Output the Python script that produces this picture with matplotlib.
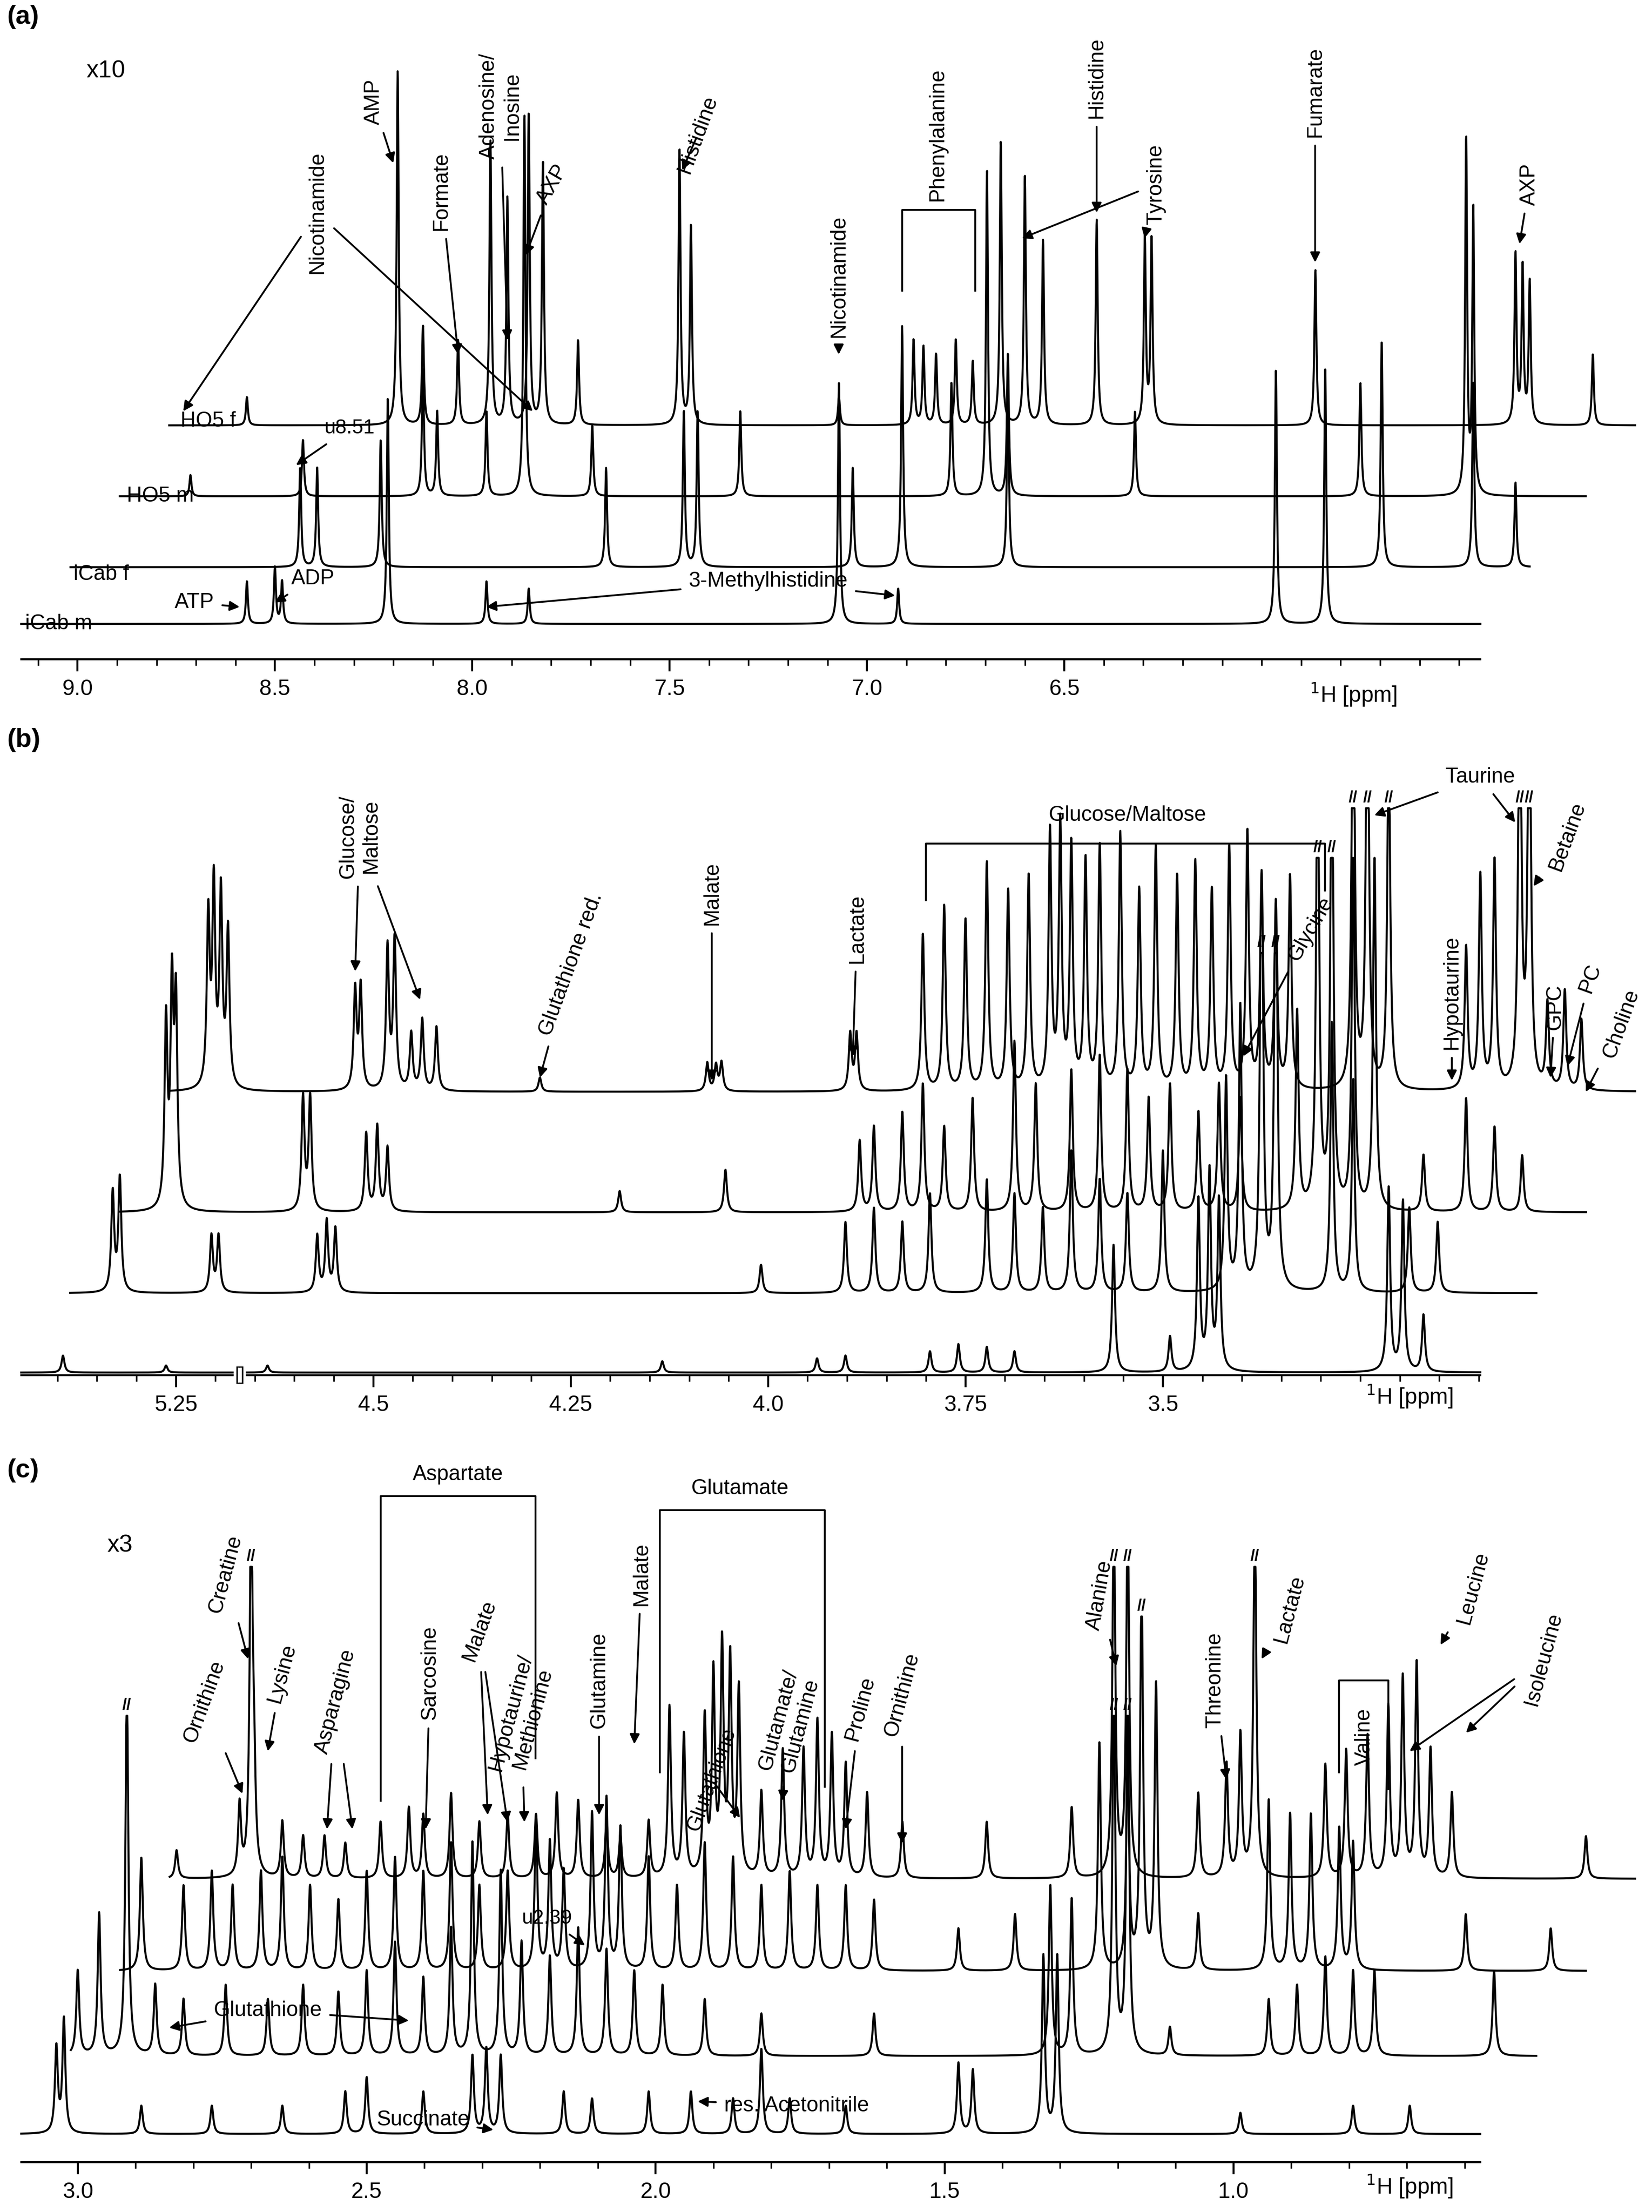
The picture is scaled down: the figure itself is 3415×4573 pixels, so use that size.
import numpy as np
import matplotlib
matplotlib.use('Agg')
import matplotlib.pyplot as plt
from matplotlib.ticker import FixedLocator

plt.rcParams['font.family'] = ['Liberation Sans', 'DejaVu Sans']

# ---------------- data: peak positions (ppm) and heights per trace ----------------
# panel (a), aromatic region (x10)
a_names = ['HO5 f', 'HO5 m', 'iCab f', 'iCab m']
a_ppm = [
    [8.571, 8.189, 8.125, 8.036, 7.954, 7.911, 7.857, 7.821, 7.732, 7.475, 7.446, 7.071, 6.882, 6.857,
     6.825, 6.775, 6.732, 6.661, 6.600, 6.554, 6.418, 6.296, 6.279, 5.864, 5.357, 5.339, 5.321, 5.161],
    [8.714, 8.429, 8.125, 8.089, 7.964, 7.868, 7.696, 7.321, 6.786, 6.696, 6.643, 6.321, 5.750, 5.482, 5.464],
    [8.436, 8.393, 8.232, 7.661, 7.464, 7.429, 7.036, 6.911, 6.643, 5.696, 5.464, 5.357],
    [8.571, 8.500, 8.482, 8.214, 7.964, 7.857, 7.071, 6.921, 5.964, 5.839],
]
a_int = [
    [20, 250, 70, 60, 200, 160, 220, 185, 60, 195, 140, 20, 60, 55, 50, 60, 45, 200, 175, 130, 145, 130,
     130, 110, 120, 110, 100, 50],
    [15, 40, 90, 60, 60, 270, 50, 60, 80, 230, 100, 60, 80, 250, 200],
    [70, 70, 90, 70, 110, 110, 70, 170, 130, 160, 130, 60],
    [30, 40, 30, 160, 30, 25, 170, 25, 180, 180],
]
a_range = [(8.768, 5.054), (8.893, 5.179), (9.018, 5.321), (9.143, 5.446)]

# panel (b), 5.4-2.9 ppm
b_ppm = [
    [5.209, 5.202, 5.193, 5.184, 4.523, 4.516, 4.482, 4.473, 4.452, 4.438, 4.420, 4.289, 4.077, 4.066,
     4.059, 3.896, 3.888, 3.804, 3.777, 3.750, 3.723, 3.696, 3.670, 3.643, 3.630, 3.616, 3.598, 3.580,
     3.554, 3.530, 3.509, 3.482, 3.459, 3.438, 3.416, 3.393, 3.375, 3.357, 3.339, 3.259, 3.241, 3.214,
     3.116, 3.098, 3.080, 3.048, 3.036, 3.013, 2.991, 2.970],
    [5.2625, 5.255, 5.250, 4.589, 4.580, 4.509, 4.495, 4.482, 4.188, 4.054, 3.884, 3.866, 3.830, 3.804,
     3.777, 3.741, 3.688, 3.661, 3.616, 3.580, 3.545, 3.518, 3.491, 3.455, 3.429, 3.402, 3.330, 3.304,
     3.286, 3.259, 3.232, 3.170, 3.116, 3.080, 3.045],
    [5.330, 5.321, 5.205, 5.196, 4.571, 4.559, 4.548, 4.009, 3.902, 3.866, 3.830, 3.795, 3.723, 3.688,
     3.652, 3.616, 3.580, 3.545, 3.500, 3.420, 3.402, 3.375, 3.357, 3.286, 3.259, 3.188, 3.152],
    [5.393, 5.2625, 4.634, 4.134, 3.938, 3.902, 3.795, 3.759, 3.723, 3.688, 3.5625, 3.491, 3.455, 3.441,
     3.429, 3.214, 3.196, 3.170],
]
b_int = [
    [120, 140, 135, 110, 70, 72, 100, 105, 40, 50, 45, 10, 20, 18, 20, 40, 40, 110, 130, 120, 160, 140,
     150, 180, 185, 170, 160, 170, 180, 140, 170, 150, 160, 140, 170, 180, 150, 130, 150, 330, 330, 250,
     100, 150, 160, 330, 330, 60, 70, 50],
    [130, 150, 140, 80, 80, 55, 60, 45, 15, 30, 50, 60, 70, 90, 60, 80, 120, 90, 100, 110, 100, 80, 90,
     70, 90, 80, 140, 350, 350, 250, 250, 40, 80, 60, 40],
    [70, 80, 40, 40, 40, 50, 45, 20, 50, 60, 50, 70, 80, 70, 60, 100, 80, 70, 100, 150, 200, 350, 350,
     190, 150, 60, 50],
    [12, 5, 5, 8, 10, 12, 15, 20, 18, 15, 90, 25, 120, 140, 120, 130, 120, 40],
]
b_range = [(5.259, 2.902), (5.321, 2.964), (5.384, 3.027), (5.446, 3.098)]

# panel (c), aliphatic region (x3)
c_ppm = [
    [2.829, 2.720, 2.700, 2.695, 2.646, 2.610, 2.573, 2.537, 2.476, 2.427, 2.402, 2.354, 2.305, 2.256,
     2.207, 2.171, 2.134, 2.085, 2.061, 2.012, 1.976, 1.951, 1.915, 1.900, 1.885, 1.871, 1.856, 1.817,
     1.780, 1.744, 1.720, 1.695, 1.671, 1.634, 1.573, 1.427, 1.280, 1.207, 1.183, 1.061, 1.012, 0.988,
     0.963, 0.841, 0.805, 0.768, 0.732, 0.707, 0.683, 0.659, 0.622, 0.390],
    [2.890, 2.817, 2.768, 2.732, 2.683, 2.646, 2.598, 2.549, 2.500, 2.451, 2.402, 2.354, 2.305, 2.256,
     2.207, 2.183, 2.159, 2.110, 2.085, 2.061, 2.012, 1.963, 1.915, 1.866, 1.817, 1.768, 1.720, 1.671,
     1.622, 1.476, 1.378, 1.232, 1.183, 1.159, 1.134, 1.061, 0.939, 0.902, 0.866, 0.817, 0.793, 0.598,
     0.451],
    [3.000, 2.963, 2.915, 2.866, 2.817, 2.744, 2.671, 2.610, 2.549, 2.500, 2.451, 2.402, 2.354, 2.317,
     2.268, 2.232, 2.183, 2.134, 2.085, 2.037, 1.988, 1.915, 1.817, 1.622, 1.317, 1.280, 1.207, 1.183,
     1.110, 0.939, 0.890, 0.841, 0.793, 0.756, 0.549],
    [3.037, 3.024, 2.890, 2.768, 2.646, 2.537, 2.500, 2.402, 2.317, 2.293, 2.268, 2.159, 2.110, 2.012,
     1.939, 1.866, 1.817, 1.768, 1.671, 1.476, 1.451, 1.329, 1.305, 0.988, 0.793, 0.695],
]
c_int = [
    [20, 50, 260, 60, 40, 30, 30, 25, 40, 50, 45, 60, 40, 45, 45, 60, 55, 40, 30, 40, 120, 100, 110, 140,
     160, 150, 130, 60, 90, 90, 110, 100, 80, 60, 40, 40, 50, 260, 260, 60, 80, 100, 260, 80, 90, 100,
     120, 140, 150, 90, 60, 30],
    [80, 60, 70, 60, 70, 80, 60, 50, 70, 80, 70, 90, 60, 70, 100, 90, 70, 110, 120, 100, 80, 60, 90, 80,
     60, 70, 60, 60, 50, 30, 40, 160, 150, 270, 200, 40, 120, 110, 110, 100, 90, 40, 30],
    [60, 100, 260, 50, 40, 50, 40, 50, 45, 60, 80, 55, 90, 150, 130, 80, 70, 90, 75, 60, 50, 40, 30, 30,
     120, 110, 260, 260, 20, 40, 50, 70, 60, 60, 60],
    [60, 80, 20, 20, 20, 30, 40, 30, 55, 60, 55, 30, 25, 30, 30, 25, 60, 25, 20, 50, 45, 125, 125, 15,
     20, 20],
]
c_range = [(2.841, 0.305), (2.927, 0.390), (3.012, 0.476), (3.098, 0.573)]

# ---------------- layout ----------------
W, H = 1172, 1560  # reference layout units
XL, XR = 15, 1160
panels = {
    'a': dict(xlim=(9.143, 5.054), ybot=465, ytop=10, spine=(9.143, 5.446), offs=[165, 115, 65, 25],
              caps=[1000] * 4, gam=0.003),
    'b': dict(xlim=(4.946, 2.902), ybot=970, ytop=520, spine=(4.946, 3.098), offs=[200, 115, 58, 2],
              caps=[200, 250, 240, 250], gam=0.0022),
    'c': dict(xlim=(3.098, 0.305), ybot=1525, ytop=1030, spine=(3.098, 0.573), offs=[200, 135, 75, 20],
              caps=[220, 250, 240, 250], gam=0.003),
}
BREAK = 5.15


def to_virtual(p):
    # panel (b) has a broken axis: everything above the break is moved by 0.5 ppm
    p = np.asarray(p, dtype=float)
    return np.where(p > BREAK, p - 0.5, p)


fig = plt.figure(figsize=(3415 / 300, 4573 / 300), dpi=300)
axes = {}
for k, p in panels.items():
    ax = fig.add_axes([XL / W, 1 - p['ybot'] / H, (XR - XL) / W, (p['ybot'] - p['ytop']) / H])
    ax.patch.set_alpha(0)
    ax.set_xlim(*p['xlim'])
    ax.set_ylim(0, p['ybot'] - p['ytop'])
    for s in ['left', 'top', 'right']:
        ax.spines[s].set_visible(False)
    ax.spines['bottom'].set_bounds(*p['spine'])
    ax.spines['bottom'].set_linewidth(1.0)
    ax.set_yticks([])
    ax.tick_params(axis='x', labelsize=11, length=6, width=1)
    ax.tick_params(axis='x', which='minor', length=3, width=0.8)
    axes[k] = ax


def px(k, x, y):
    p = panels[k]
    x0, x1 = p['xlim']
    return x0 + (x - XL) / (XR - XL) * (x1 - x0), p['ybot'] - y


def spectrum(k, ppms, ints, ranges, virtual=False):
    ax = axes[k]
    p = panels[k]
    g = p['gam']
    for i, (pp, ii, rg) in enumerate(zip(ppms, ints, ranges)):
        pv = to_virtual(pp) if virtual else np.asarray(pp)
        lo, hi = (to_virtual([rg[0]])[0] if virtual else rg[0]), rg[1]
        x = np.linspace(lo, hi, 6000)
        y = np.zeros_like(x)
        for c, h in zip(pv, ii):
            y += h * g ** 2 / ((x - c) ** 2 + g ** 2)
        cap = p['caps'][i]
        ax.plot(x, np.minimum(y, cap) + p['offs'][i], color='black', lw=1.0, clip_on=False)
        for c, h in zip(pv, ii):
            if h > cap:
                ax.text(c, cap + p['offs'][i] + 2, '//', fontsize=8, ha='center', va='bottom',
                        fontweight='bold')


spectrum('a', a_ppm, a_int, a_range)
spectrum('b', b_ppm, b_int, b_range, virtual=True)
spectrum('c', c_ppm, c_int, c_range)

# ticks
axes['a'].xaxis.set_major_locator(FixedLocator([9.0, 8.5, 8.0, 7.5, 7.0, 6.5]))
axes['a'].set_xticklabels(['9.0', '8.5', '8.0', '7.5', '7.0', '6.5'])
axes['a'].xaxis.set_minor_locator(FixedLocator(np.arange(5.5, 9.15, 0.1)))
axes['b'].xaxis.set_major_locator(FixedLocator([4.75, 4.5, 4.25, 4.0, 3.75, 3.5]))
axes['b'].set_xticklabels(['5.25', '4.5', '4.25', '4.0', '3.75', '3.5'])
axes['b'].xaxis.set_minor_locator(FixedLocator(np.arange(3.1, 4.95, 0.05)))
axes['c'].xaxis.set_major_locator(FixedLocator([3.0, 2.5, 2.0, 1.5, 1.0]))
axes['c'].set_xticklabels(['3.0', '2.5', '2.0', '1.5', '1.0'])
axes['c'].xaxis.set_minor_locator(FixedLocator(np.arange(0.6, 3.1, 0.1)))

# axis break symbol in (b)
bx, _ = px('b', 170, 0)
axes['b'].text(bx, 0, '[]', ha='center', va='center', fontsize=9,
               bbox=dict(fc='white', ec='none', pad=0.5), clip_on=False)

for k, (x, y) in {'a': (960, 490), 'b': (1000, 985), 'c': (1000, 1542)}.items():
    axes[k].text(*px(k, x, y), r'$^{1}$H [ppm]', ha='center', va='center', fontsize=11, clip_on=False)

for lab, y in [('(a)', 12), ('(b)', 522), ('(c)', 1037)]:
    fig.text(5 / W, 1 - y / H, lab, fontsize=13, fontweight='bold', va='center', ha='left')

AP = dict(arrowstyle='-|>', lw=0.9, color='black', mutation_scale=10, shrinkA=2, shrinkB=0)


def label(k, text, xy, targets, rot=90, fs=10.5, ha='center'):
    ax = axes[k]
    tx, ty = px(k, *xy)
    if not targets:
        ax.text(tx, ty, text, rotation=rot, fontsize=fs, ha=ha, va='center', clip_on=False,
                multialignment='center')
        return
    for j, t in enumerate(targets):
        ax.annotate(text, xy=px(k, *t), xytext=(tx, ty), rotation=rot, fontsize=fs, ha=ha,
                    va='center', color='black' if j == 0 else 'none', arrowprops=AP,
                    annotation_clip=False, multialignment='center')


def bracket(k, x0, x1, ytop, yb0, yb1):
    ax = axes[k]
    pts = [px(k, x0, yb0), px(k, x0, ytop), px(k, x1, ytop), px(k, x1, yb1)]
    ax.plot([q[0] for q in pts], [q[1] for q in pts], color='black', lw=0.9, clip_on=False)


# ---- panel (a) labels
label('a', 'x10', (75, 50), [], rot=0, fs=12)
for name, xy in zip(a_names, [(128, 297), (90, 350), (52, 405), (18, 440)]):
    label('a', name, xy, [], rot=0, ha='left')
label('a', 'Nicotinamide', (225, 150), [(130, 290), (378, 290)])
label('a', 'AMP', (265, 72), [(279, 115)])
label('a', 'Formate', (313, 135), [(325, 250)])
label('a', 'Adenosine/\nInosine', (355, 75), [(360, 240)])
label('a', 'AXP', (392, 130), [(373, 180)], rot=60)
label('a', 'Histidine', (495, 95), [(484, 120)], rot=70)
label('a', 'Nicotinamide', (595, 195), [(595, 250)])
label('a', 'Phenylalanine', (665, 95), [])
bracket('a', 640, 692, 148, 205, 205)
label('a', 'Histidine', (778, 55), [(778, 150)])
label('a', 'Tyrosine', (820, 130), [(725, 168), (812, 168)])
label('a', 'Fumarate', (933, 65), [(933, 185)])
label('a', 'AXP', (1085, 130), [(1078, 172)])
label('a', 'u8.51', (248, 302), [(210, 328)], rot=0, fs=10)
label('a', 'ATP', (138, 425), [(170, 428)], rot=0)
label('a', 'ADP', (222, 408), [(195, 425)], rot=0)
label('a', '3-Methylhistidine', (545, 410), [(345, 428), (635, 420)], rot=0)

# ---- panel (b) labels
label('b', 'Glucose/\nMaltose', (255, 590), [(252, 685), (298, 705)])
label('b', 'Glutathione red.', (405, 680), [(383, 760)], rot=70)
label('b', 'Malate', (505, 630), [(505, 762)])
label('b', 'Lactate', (608, 655), [(605, 745)])
label('b', 'Glucose/Maltose', (800, 575), [], rot=0)
bracket('b', 657, 940, 595, 635, 628)
label('b', 'Glycine', (930, 655), [(882, 745)], rot=60)
label('b', 'Taurine', (1050, 548), [(975, 575), (1075, 580)], rot=0)
label('b', 'Betaine', (1112, 590), [(1088, 625)], rot=70)
label('b', 'Hypotaurine', (1030, 700), [(1030, 762)])
label('b', 'GPC', (1103, 710), [(1100, 760)])
label('b', 'PC', (1128, 690), [(1112, 752)], rot=70)
label('b', 'Choline', (1150, 722), [(1125, 770)], rot=70)

# ---- panel (c) labels
label('c', 'x3', (85, 1090), [], rot=0, fs=12)
label('c', 'Ornithine', (145, 1200), [(172, 1265)], rot=70)
label('c', 'Creatine', (160, 1110), [(176, 1170)], rot=75)
label('c', 'Lysine', (200, 1180), [(190, 1235)], rot=75)
label('c', 'Asparagine', (238, 1200), [(232, 1290), (250, 1290)], rot=75)
label('c', 'Aspartate', (325, 1040), [], rot=0)
bracket('c', 270, 380, 1055, 1270, 1240)
label('c', 'Sarcosine', (305, 1180), [(302, 1290)])
label('c', 'Malate', (340, 1150), [(346, 1280), (360, 1285)], rot=70)
label('c', 'Hypotaurine/\nMethionine', (370, 1210), [(372, 1285)], rot=75)
label('c', 'Glutamine', (425, 1185), [(425, 1280)])
label('c', 'Malate', (455, 1110), [(450, 1230)])
label('c', 'Glutamate', (525, 1050), [], rot=0)
bracket('c', 468, 585, 1065, 1250, 1260)
label('c', 'Glutathione', (505, 1255), [(525, 1282)], rot=70)
label('c', 'Glutamate/\nGlutamine', (560, 1215), [(555, 1270)], rot=75)
label('c', 'Proline', (610, 1205), [(600, 1290)], rot=75)
label('c', 'Ornithine', (640, 1195), [(640, 1300)], rot=75)
label('c', 'Alanine', (780, 1125), [(792, 1175)], rot=80)
label('c', 'Threonine', (862, 1185), [(870, 1255)])
label('c', 'Lactate', (915, 1135), [(895, 1170)], rot=75)
label('c', 'Valine', (968, 1225), [])
bracket('c', 950, 985, 1185, 1250, 1262)
label('c', 'Leucine', (1045, 1120), [(1022, 1160)], rot=75)
label('c', 'Isoleucine', (1095, 1170), [(1000, 1235), (1040, 1222)], rot=75)
label('c', 'u2.39', (388, 1353), [(415, 1372)], rot=0, fs=10)
label('c', 'Glutathione', (190, 1418), [(120, 1430), (290, 1425)], rot=0)
label('c', 'Succinate', (300, 1495), [(350, 1502)], rot=0)
label('c', 'res. Acetonitrile', (565, 1485), [(495, 1482)], rot=0)

fig.savefig('out.png', dpi=300)
